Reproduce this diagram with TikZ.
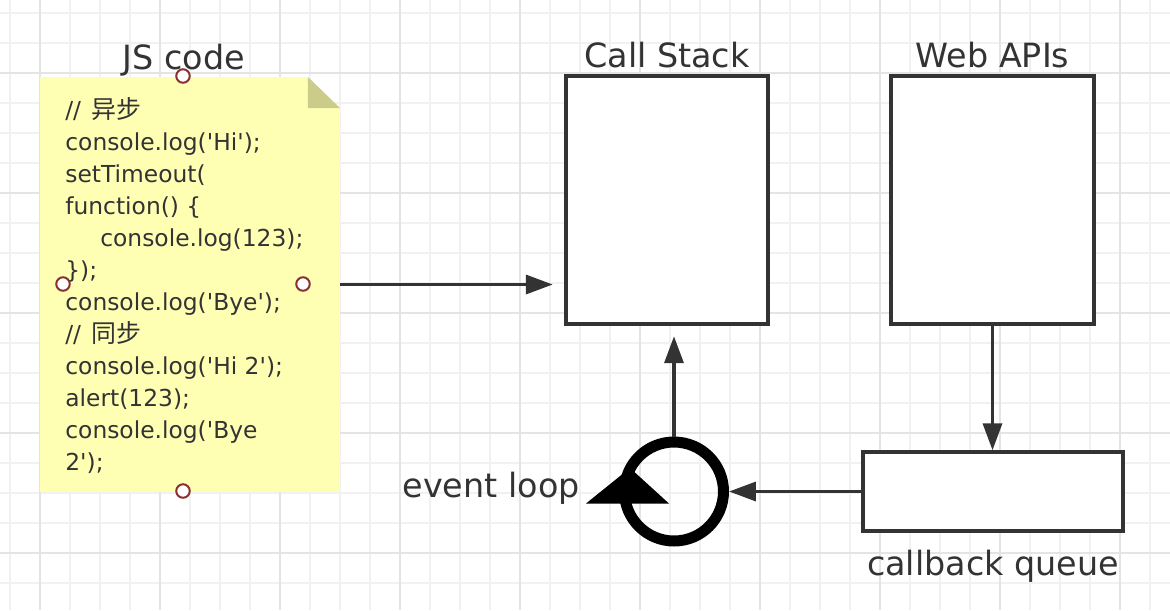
\documentclass[tikz,border=0pt]{standalone}
\usepackage{fontspec}
\setmainfont{DejaVu Sans}
\newfontfamily\cjk{Noto Sans CJK SC}
\usepackage{tikz}
\usetikzlibrary{arrows.meta,positioning,calc}

\definecolor{ink}{HTML}{333333}
\definecolor{gridminor}{HTML}{F1F1F1}
\definecolor{gridmajor}{HTML}{E4E4E4}
\definecolor{notefill}{HTML}{FFFFB4}
\definecolor{foldfill}{HTML}{CCCC8A}
\definecolor{handlered}{HTML}{8C2F2F}

\newcommand{\sq}{\textquotesingle}
\newcommand{\zh}[1]{\hspace{0.2cm}{\cjk\fontsize{14.2}{16}\selectfont #1}}

\tikzset{
	box/.style={draw=ink, line width=0.07cm, fill=white, inner sep=0pt},
	title/.style={text=ink, font=\fontsize{19}{23}\selectfont, inner sep=0pt},
	codetext/.style={text=ink, font=\fontsize{13.3}{16}\selectfont, inner sep=0pt, anchor=base west},
	arr/.style={draw=ink, line width=0.07cm, -{Triangle[length=0.54cm, width=0.38cm]}},
	handle/.style={circle, draw=handlered, fill=white, line width=0.04cm, minimum size=0.27cm, inner sep=0pt},
}

\begin{document}
\begin{tikzpicture}[x=0.02cm, y=-0.02cm]
		\useasboundingbox (0,0) rectangle (1170,610);
		\fill[white] (0,0) rectangle (1170,610);

		% grid
		\foreach \gx in {10,40,...,1170} \draw[gridminor, line width=0.035cm] (\gx,0) -- (\gx,610);
		\foreach \gy in {13,43,...,610} \draw[gridminor, line width=0.035cm] (0,\gy) -- (1170,\gy);
		\foreach \gx in {40,160,...,1170} \draw[gridmajor, line width=0.035cm] (\gx,0) -- (\gx,610);
		\foreach \gy in {73,193,...,610} \draw[gridmajor, line width=0.035cm] (0,\gy) -- (1170,\gy);

		% sticky note
		\node (note) [minimum width=6cm, minimum height=8.3cm, inner sep=0pt, outer sep=0pt] at (190,284.5) {};
		\fill[notefill] (note.north west) -- ($(note.north east)+(-32,0)$) -- ($(note.north east)+(0,31)$) -- (note.south east) -- (note.south west) -- cycle;
		\fill[foldfill] ($(note.north east)+(-32,0)$) -- ($(note.north east)+(-32,31)$) -- ($(note.north east)+(0,31)$) -- cycle;

		\foreach \codeline [count=\i] in {
			{//\zh{异步}},
			{console.log(\sq Hi\sq);},
			{setTimeout(},
			{function() \{},
			{\hspace*{0.7cm}console.log(123);},
			{\});},
			{console.log(\sq Bye\sq);},
			{//\zh{同步}},
			{console.log(\sq Hi 2\sq);},
			{alert(123);},
			{console.log(\sq Bye},
			{2\sq);}}
			\node[codetext] (code\i) at (65,86+32*\i) {\codeline};

		\node[handle] (htop) at (183,76) {};
		\node[handle] (hleft) at (63,284) {};
		\node[handle] (hright) at (303,284) {};
		\node[handle] (hbottom) at (183,491) {};

		\node[title, anchor=base] (jstitle) at (184,69) {JS code};

		% boxes
		\node[box, minimum width=4.04cm, minimum height=4.96cm] (stack) at (667,200) {};
		\node[box, minimum width=4.06cm, minimum height=4.96cm] (web) at (992.5,200) {};
		\node[box, minimum width=5.2cm, minimum height=1.58cm] (queue) at (993,491.5) {};

		\node[title, above=0.12cm of stack] (stacktitle) {Call Stack};
		\node[title, above=0.12cm of web] (webtitle) {Web APIs};
		\node[title, below=0.34cm of queue] (queuetitle) {callback queue};

		% event loop
		\node[circle, draw=black, line width=0.22cm, minimum size=1.98cm, inner sep=0pt] (loop) at (674,491.5) {};
		\fill[black] ($(loop.center)+(-88,12)$) -- ($(loop.center)+(-5,12)$) -- ($(loop.center)+(-44,-23.5)$) -- cycle;
		\node[title, anchor=base east] (looptitle) at (580,497) {event loop};

		% connectors
		\draw[arr, shorten >=0.23cm] (note.east) -- (stack.west |- note.east);
		\draw[arr] (web.south) -- (web.south |- queue.north);
		\draw[arr] (queue.west) -- (loop.east);
		\draw[arr, shorten >=0.21cm] (loop.north) -- (loop.north |- stack.south);
	\end{tikzpicture}
\end{document}
